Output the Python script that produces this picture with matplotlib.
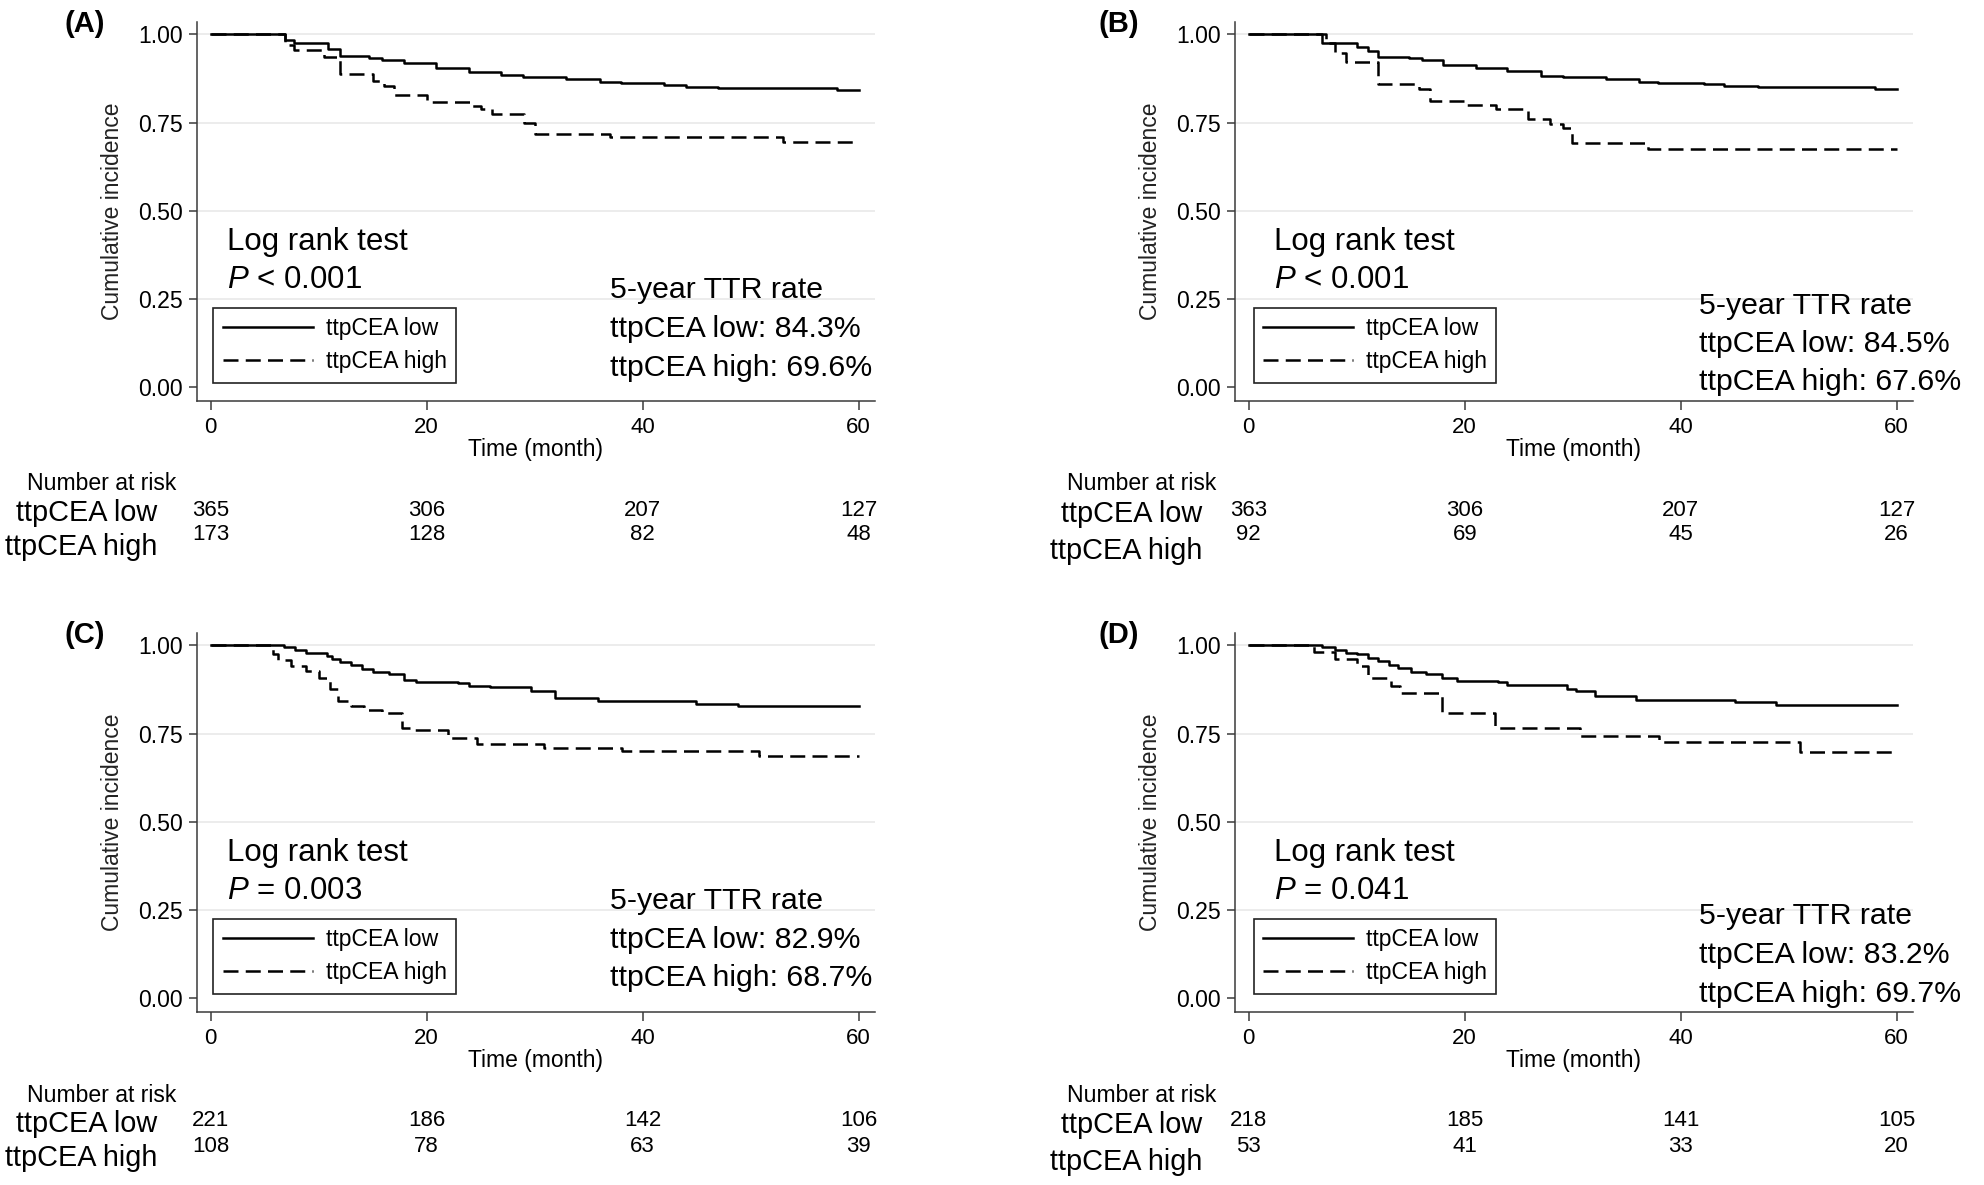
import matplotlib
matplotlib.use("Agg")
import matplotlib.pyplot as plt
from matplotlib.transforms import blended_transform_factory

plt.rcParams['font.family'] = ['Liberation Sans', 'DejaVu Sans']
plt.rcParams['mathtext.fontset'] = 'custom'
plt.rcParams['mathtext.it'] = 'Liberation Sans:italic'
plt.rcParams['mathtext.rm'] = 'Liberation Sans'

# ---- data (months, cumulative incidence) ----
a_low_t = [0, 6.9, 7.7, 10.9, 12.0, 14.7, 15.9, 17.9, 20.9, 23.9, 26.9, 28.9, 32.9, 36.0, 38.0, 42.0, 44.0, 47.0, 58.0, 60.0]
a_low_s = [1.0, 0.985, 0.975, 0.959, 0.939, 0.934, 0.928, 0.918, 0.905, 0.892, 0.884, 0.878, 0.873, 0.864, 0.861, 0.857, 0.852, 0.848, 0.843, 0.843]
a_high_t = [0, 6.9, 7.7, 10.5, 12.0, 15.0, 16.0, 17.0, 20.0, 24.0, 25.0, 26.0, 29.0, 30.0, 37.0, 53.0, 60.0]
a_high_s = [1.0, 0.970, 0.955, 0.936, 0.887, 0.868, 0.854, 0.828, 0.809, 0.798, 0.789, 0.773, 0.750, 0.717, 0.708, 0.696, 0.696]

b_low_t = [0, 6.8, 10.0, 11.0, 12.0, 14.8, 16.0, 18.0, 21.0, 23.9, 27.1, 29.1, 33.1, 36.1, 37.9, 42.2, 44.0, 47.2, 58.0, 60.0]
b_low_s = [1.0, 0.975, 0.965, 0.953, 0.937, 0.934, 0.928, 0.914, 0.904, 0.895, 0.883, 0.878, 0.873, 0.866, 0.862, 0.859, 0.854, 0.851, 0.845, 0.845]
b_high_t = [0, 7.2, 8.0, 9.0, 12.0, 15.8, 16.8, 19.9, 22.9, 25.9, 27.9, 29.1, 29.9, 37.0, 60.0]
b_high_s = [1.0, 0.976, 0.946, 0.921, 0.858, 0.845, 0.812, 0.800, 0.788, 0.760, 0.746, 0.735, 0.691, 0.676, 0.676]

c_low_t = [0, 6.8, 7.8, 8.8, 10.8, 11.2, 12.0, 13.0, 14.0, 15.0, 16.5, 17.9, 19.0, 22.9, 23.9, 25.9, 29.7, 31.9, 35.9, 44.9, 48.8, 60.0]
c_low_s = [1.0, 0.995, 0.986, 0.978, 0.970, 0.960, 0.953, 0.944, 0.932, 0.925, 0.918, 0.903, 0.895, 0.892, 0.886, 0.882, 0.871, 0.852, 0.842, 0.835, 0.829, 0.829]
c_high_t = [0, 5.8, 6.2, 7.4, 8.8, 10.0, 11.0, 11.8, 13.0, 14.2, 15.9, 17.7, 18.7, 22.0, 24.7, 30.9, 38.1, 50.8, 60.0]
c_high_s = [1.0, 0.975, 0.958, 0.942, 0.927, 0.907, 0.875, 0.842, 0.828, 0.816, 0.809, 0.765, 0.759, 0.736, 0.720, 0.710, 0.701, 0.687, 0.687]

d_low_t = [0, 6.8, 8.0, 9.0, 10.0, 11.0, 12.0, 13.0, 13.8, 15.0, 16.4, 17.9, 19.3, 23.1, 23.9, 29.5, 30.3, 32.1, 35.9, 45.0, 48.8, 60.0]
d_low_s = [1.0, 0.995, 0.986, 0.979, 0.975, 0.965, 0.956, 0.945, 0.935, 0.923, 0.918, 0.907, 0.899, 0.895, 0.888, 0.876, 0.871, 0.857, 0.845, 0.838, 0.832, 0.832]
d_high_t = [0, 6.0, 8.0, 10.0, 11.0, 13.2, 14.0, 17.9, 22.8, 30.7, 38.0, 51.0, 60.0]
d_high_s = [1.0, 0.981, 0.962, 0.942, 0.906, 0.885, 0.865, 0.807, 0.765, 0.744, 0.726, 0.697, 0.697]

risk_times = [0, 20, 40, 60]
a_risk_low = [365, 306, 207, 127]
a_risk_high = [173, 128, 82, 48]
b_risk_low = [363, 306, 207, 127]
b_risk_high = [92, 69, 45, 26]
c_risk_low = [221, 186, 142, 106]
c_risk_high = [108, 78, 63, 39]
d_risk_low = [218, 185, 141, 105]
d_risk_high = [53, 41, 33, 20]

tags = ["(A)", "(B)", "(C)", "(D)"]
p_texts = ["$P$ < 0.001", "$P$ < 0.001", "$P$ = 0.003", "$P$ = 0.041"]
ttr_low = ["84.3%", "84.5%", "82.9%", "83.2%"]
ttr_high = ["69.6%", "67.6%", "68.7%", "69.7%"]
group_names = ["ttpCEA low", "ttpCEA high"]

curves = [(a_low_t, a_low_s, a_high_t, a_high_s),
          (b_low_t, b_low_s, b_high_t, b_high_s),
          (c_low_t, c_low_s, c_high_t, c_high_s),
          (d_low_t, d_low_s, d_high_t, d_high_s)]
risks = [(a_risk_low, a_risk_high), (b_risk_low, b_risk_high),
         (c_risk_low, c_risk_high), (d_risk_low, d_risk_high)]

# ---- layout (pixels from top-left of the 1984x1185 canvas) ----
W, H = 1984, 1185
px_per_month = 10.8
px_per_unit = 353.0
xlim = (-1.3, 61.5)
ylim = (-0.039, 1.036)
col_x0 = [210.7, 1248.7]       # pixel x of t=0
row_y1 = [34.3, 645.3]         # pixel y of 1.00
col_style = [
    dict(log_dx=16, ttr_dx=399, ttr_base=[298.3, 337.3, 375.5], leg_dx=2.6,
         nar_dx=-34.7, lab_dx=-53.7, tag_dx=-125.7, lab_y=[513, 547]),
    dict(log_dx=25.8, ttr_dx=450, ttr_base=[313.5, 352.0, 390.5], leg_dx=4.8,
         nar_dx=-32.5, lab_dx=-46.7, tag_dx=-129.7, lab_y=[514, 551]),
]
axis_col = '#3a3a3a'
grid_col = '#ebebeb'


def fx(px):
    return px / W


def fy(py):
    return 1 - py / H


fig = plt.figure(figsize=(W / 100, H / 100), dpi=100)
fig.patch.set_facecolor('white')

for i in range(4):
    col, row = i % 2, i // 2
    st = col_style[col]
    x0 = col_x0[col]
    dy = row_y1[row] - row_y1[0]
    left = x0 + xlim[0] * px_per_month
    width = (xlim[1] - xlim[0]) * px_per_month
    top = row_y1[row] - (ylim[1] - 1) * px_per_unit
    height = (ylim[1] - ylim[0]) * px_per_unit
    ax = fig.add_axes([fx(left), fy(top + height), fx(width) - fx(0), height / H])

    lt, ls, ht, hs = curves[i]
    l1, = ax.step(lt, ls, where='post', color='black', lw=1.8, label=group_names[0])
    l2, = ax.step(ht, hs, where='post', color='black', lw=1.8,
                  linestyle=(0, (6.0, 2.9)), label=group_names[1])

    ax.set_xlim(*xlim)
    ax.set_ylim(*ylim)
    ax.set_xticks([0, 20, 40, 60])
    ax.set_yticks([0, 0.25, 0.5, 0.75, 1.0])
    ax.set_yticklabels(["0.00", "0.25", "0.50", "0.75", "1.00"])
    ax.grid(True, axis='y', color=grid_col, lw=1.3)
    ax.get_ygridlines()[0].set_visible(False)
    ax.set_axisbelow(True)
    for sp in ['top', 'right']:
        ax.spines[sp].set_visible(False)
    for sp in ['left', 'bottom']:
        ax.spines[sp].set_color(axis_col)
        ax.spines[sp].set_linewidth(1.1)
    ax.tick_params(axis='y', direction='out', length=5.5, width=1.1, color=axis_col,
                   labelsize=16.6, pad=4.7)
    ax.tick_params(axis='x', direction='out', length=6.5, width=1.1, color=axis_col,
                   labelsize=16, pad=5.3)
    ax.set_ylabel("Cumulative incidence", fontsize=16.5, labelpad=10, color='#222222')
    ax.set_xlabel("Time (month)", fontsize=16.5, labelpad=0)

    # panel tag
    fig.text(fx(x0 + st['tag_dx']), fy(24 + dy), tags[i], fontsize=21,
             fontweight='bold', ha='center', va='center')

    # log rank text
    fig.text(fx(x0 + st['log_dx']), fy(250 + dy), "Log rank test", fontsize=22.5,
             ha='left', va='baseline')
    fig.text(fx(x0 + st['log_dx']), fy(288.3 + dy), p_texts[i], fontsize=22.5,
             ha='left', va='baseline')

    # 5-year TTR text
    ttr_lines = ["5-year TTR rate", f"ttpCEA low: {ttr_low[i]}", f"ttpCEA high: {ttr_high[i]}"]
    for line, base in zip(ttr_lines, st['ttr_base']):
        fig.text(fx(x0 + st['ttr_dx']), fy(base + dy), line, fontsize=21.8,
                 ha='left', va='baseline')

    # legend
    leg = ax.legend([l1, l2], group_names, loc='upper left',
                    bbox_to_anchor=(fx(x0 + st['leg_dx']), fy(307.7 + dy)),
                    bbox_transform=fig.transFigure, frameon=True, fancybox=False,
                    edgecolor='#222222', framealpha=1, borderaxespad=0,
                    handlelength=3.9, handletextpad=0.55, labelspacing=0.42,
                    borderpad=0.42, fontsize=16.6)
    leg.get_frame().set_linewidth(1.2)

    # number at risk table
    fig.text(fx(x0 + st['nar_dx']), fy(484 + dy), "Number at risk", fontsize=16.6,
             ha='right', va='center')
    for name, ly in zip(group_names, st['lab_y']):
        fig.text(fx(x0 + st['lab_dx']), fy(ly + dy), name, fontsize=20.8,
                 ha='right', va='center')
    trans = blended_transform_factory(ax.transData, fig.transFigure)
    for vals, ny in zip(risks[i], [510, 535]):
        for t, v in zip(risk_times, vals):
            ax.text(t, fy(ny + dy), str(v), transform=trans, fontsize=16,
                    ha='center', va='center', clip_on=False)

fig.savefig("out.png", dpi=100, facecolor='white')
